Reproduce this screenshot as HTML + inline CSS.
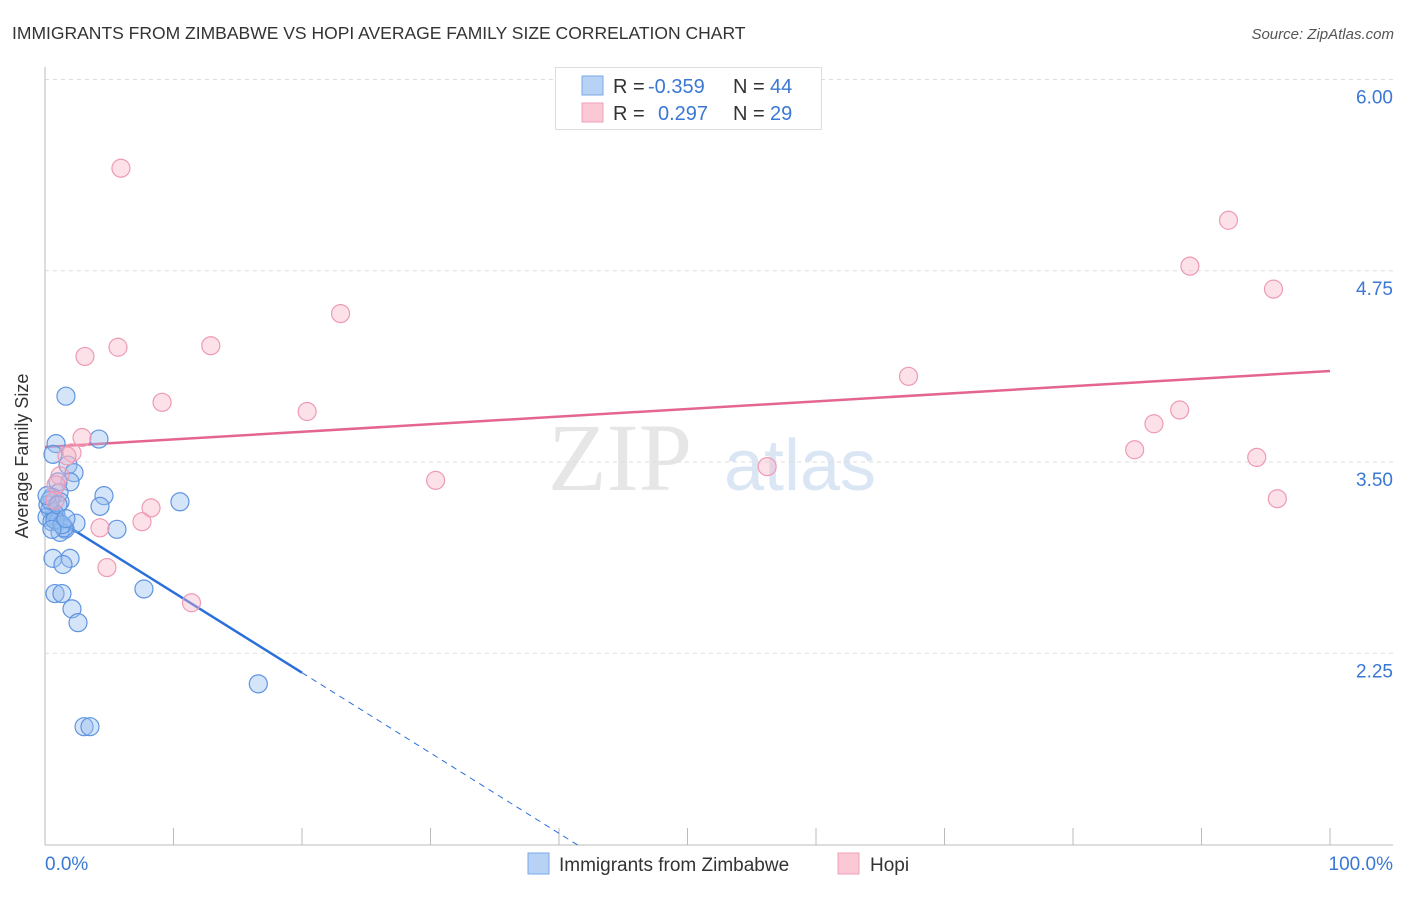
<!DOCTYPE html>
<html><head><meta charset="utf-8"><style>
body{margin:0;background:#fff;font-family:"Liberation Sans",sans-serif;}
</style></head><body>
<svg width="1406" height="892" xmlns="http://www.w3.org/2000/svg" style="font-family:'Liberation Sans',sans-serif">
<text x="12" y="39" font-size="17.5" fill="#333">IMMIGRANTS FROM ZIMBABWE VS HOPI AVERAGE FAMILY SIZE CORRELATION CHART</text>
<text x="1394" y="39" font-size="15" fill="#555" font-style="italic" text-anchor="end">Source: ZipAtlas.com</text>
<text x="620" y="490" font-size="96" fill="#e6e6e6" font-family="Liberation Serif" text-anchor="middle">ZIP</text>
<text x="800" y="490" font-size="72" fill="#dbe6f5" text-anchor="middle">atlas</text>
<g id="grid"></g>
<line x1="45" y1="67" x2="45" y2="845" stroke="#bbb"/>
<line x1="45" y1="845" x2="1393" y2="845" stroke="#bbb"/>
<g id="ticks"></g>
<text x="28" y="456" font-size="18" fill="#333" text-anchor="middle" transform="rotate(-90 28 456)">Average Family Size</text>
<text x="45" y="870" font-size="19" fill="#3a78d4">0.0%</text>
<text x="1393" y="870" font-size="19" fill="#3a78d4" text-anchor="end">100.0%</text>
<g id="lines"></g>
<g id="points"></g>
<g>
<rect x="555.5" y="67.5" width="266" height="62" fill="#fff" stroke="#ddd"/>
<rect x="582" y="76" width="21" height="19" fill="#b8d2f5" stroke="#7aa8e8"/>
<rect x="582" y="103" width="21" height="19" fill="#fbc8d6" stroke="#f0a0b8"/>
<text y="93" font-size="20" fill="#333"><tspan x="613">R =</tspan><tspan x="648" fill="#3a78d4">-0.359</tspan><tspan x="733">N =</tspan><tspan x="770" fill="#3a78d4">44</tspan></text>
<text y="120" font-size="20" fill="#333"><tspan x="613">R =</tspan><tspan x="658" fill="#3a78d4">0.297</tspan><tspan x="733">N =</tspan><tspan x="770" fill="#3a78d4">29</tspan></text>
</g>
<g>
<rect x="528" y="853" width="21" height="21" fill="#b8d2f5" stroke="#7aa8e8"/>
<text x="559" y="871" font-size="19" fill="#333">Immigrants from Zimbabwe</text>
<rect x="838" y="853" width="21" height="21" fill="#fbc8d6" stroke="#f0a0b8"/>
<text x="870" y="871" font-size="19" fill="#333">Hopi</text>
</g>
</svg>
<script>
const yTicks=[6.00,4.75,3.50,2.25];
const yTickLabels=["6.00","4.75","3.50","2.25"];
const xTickPct=[10,20,30,40,50,60,70,80,90,100];
const blueX=[1.63,0.86,4.20,0.62,1.79,2.26,1.95,1.01,4.59,1.09,0.54,1.17,10.5,4.28,0.70,0.86,0.39,0.16,1.01,2.41,0.54,1.56,1.17,5.60,1.48,0.62,1.95,1.40,7.70,0.78,1.32,2.10,2.57,16.6,3.04,3.50,0.23,0.39,0.16,0.78,1.32,0.54,1.01,1.63];
const blueY=[3.93,3.62,3.65,3.55,3.48,3.43,3.37,3.37,3.28,3.30,3.27,3.24,3.24,3.21,3.17,3.15,3.19,3.14,3.11,3.10,3.11,3.06,3.04,3.06,3.07,2.87,2.87,2.83,2.67,2.64,2.64,2.54,2.45,2.05,1.77,1.77,3.22,3.25,3.28,3.12,3.09,3.06,3.22,3.13];
const pinkX=[5.91,92.1,89.1,95.6,23.0,12.9,5.68,3.11,67.2,9.11,20.4,88.3,86.3,2.88,2.10,84.8,1.71,94.3,56.2,30.4,1.17,0.86,95.9,8.25,7.55,4.28,4.82,11.4,0.78];
const pinkY=[5.42,5.08,4.78,4.63,4.47,4.26,4.25,4.19,4.06,3.89,3.83,3.84,3.75,3.66,3.56,3.58,3.54,3.53,3.47,3.38,3.41,3.35,3.26,3.20,3.11,3.07,2.81,2.58,3.25];
const blueTrend=[3.173,-0.0525];
const pinkTrend=[3.598,0.00497];
const NS="http://www.w3.org/2000/svg";
const X=p=>45+p*12.85;
const Y=v=>462-(v-3.5)*153;
function mk(tag,attrs,parent){const e=document.createElementNS(NS,tag);for(const k in attrs)e.setAttribute(k,attrs[k]);document.getElementById(parent).appendChild(e);return e;}
yTicks.forEach((v,i)=>{
 const l=mk('line',{x1:45,x2:1393,y1:Y(v),y2:Y(v),stroke:'#ddd','stroke-dasharray':'4,4'},'grid');
 
 
 const t=mk('text',{x:1393,y:Y(v)+24,'font-size':19,fill:'#3a78d4','text-anchor':'end'},'grid');
 t.textContent=yTickLabels[i];
 
 
});
xTickPct.forEach(p=>{
 const l=mk('line',{x1:X(p),x2:X(p),y1:828,y2:845,stroke:'#bbb'},'ticks');
 
 
});
const bv=p=>blueTrend[0]+blueTrend[1]*p;
let b1=mk('line',{x1:X(0),y1:Y(bv(0)),x2:X(20),y2:Y(bv(20)),stroke:'#2a6fdb','stroke-width':2.5},'lines');


const pe=(((462-845)/153+3.5)-blueTrend[0])/blueTrend[1];
let b2=mk('line',{x1:X(20),y1:Y(bv(20)),x2:X(pe),y2:845,stroke:'#2a6fdb','stroke-width':1,'stroke-dasharray':'6,5'},'lines');


const pv=p=>pinkTrend[0]+pinkTrend[1]*p;
let pl=mk('line',{x1:X(0),y1:Y(pv(0)),x2:X(100),y2:Y(pv(100)),stroke:'#e4668f','stroke-width':2.5},'lines');


blueX.forEach((x,i)=>{
 const c=mk('circle',{cx:X(x),cy:Y(blueY[i]),r:9,fill:'rgba(150,190,240,0.4)',stroke:'#5f94e0','stroke-width':1.2},'points');
 
 
});
pinkX.forEach((x,i)=>{
 const c=mk('circle',{cx:X(x),cy:Y(pinkY[i]),r:9,fill:'rgba(248,180,200,0.4)',stroke:'#ee9ab4','stroke-width':1.2},'points');
 
 
});
</script>
</body></html>
